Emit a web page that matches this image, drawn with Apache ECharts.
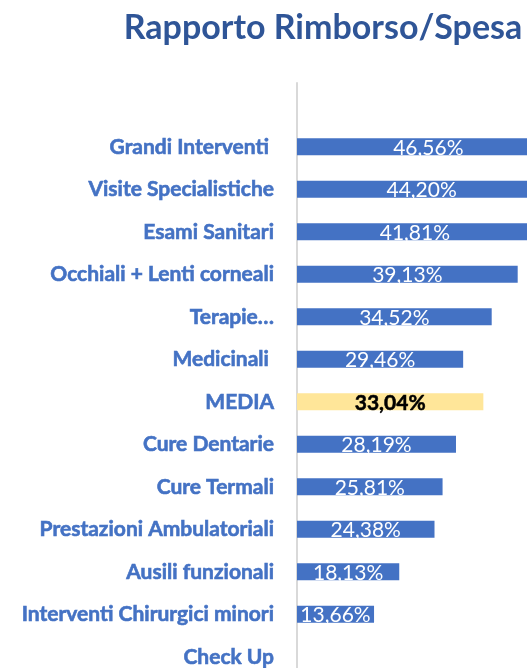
<!DOCTYPE html>
<html>
<head>
<meta charset="utf-8">
<script src="https://cdn.jsdelivr.net/npm/echarts@6/dist/echarts.min.js"></script>
<style>
  html, body { margin: 0; padding: 0; background: #fff; }
  #main { width: 527px; height: 668px; }
</style>
</head>
<body>
<div id="main"></div>
<script>
// categories top to bottom (first one is an empty slot above the bars)
const categories = ['', 'Grandi Interventi ', 'Visite Specialistiche', 'Esami Sanitari', 'Occhiali + Lenti corneali',
  'Terapie…', 'Medicinali ', 'MEDIA', 'Cure Dentarie', 'Cure Termali', 'Prestazioni Ambulatoriali',
  'Ausili funzionali', 'Interventi Chirurgici minori', 'Check Up'];
const ratios = [null, 46.56, 44.20, 41.81, 39.13, 34.52, 29.46, 33.04, 28.19, 25.81, 24.38, 18.13, 13.66, null];
const highlight = 'MEDIA';

const blue = '#4472C4';

const seriesData = ratios.map((v, i) => {
  if (categories[i] === highlight) {
    return {
      value: v,
      itemStyle: { color: '#FFE699' },
      label: { color: '#000', fontWeight: 'bold', textBorderColor: '#000', textBorderWidth: 0.5 }
    };
  }
  return v;
});

const chart = echarts.init(document.getElementById('main'), null, { renderer: 'canvas' });
chart.setOption({
  animation: false,
  title: {
    text: 'Rapporto Rimborso/Spesa',
    left: 318,
    top: 6,
    textAlign: 'center',
    textStyle: { color: '#2F5597', fontSize: 34, fontWeight: 'bold', fontFamily: 'Lato' }
  },
  grid: { left: 297, top: 83, width: 282, height: 595, outerBoundsMode: 'none', containLabel: false },
  xAxis: {
    type: 'value',
    min: 0,
    max: 50,
    show: false
  },
  yAxis: {
    type: 'category',
    inverse: true,
    data: categories,
    axisLine: { show: true, lineStyle: { color: '#D9D9D9', width: 2 } },
    axisTick: { show: false },
    axisLabel: {
      margin: 23,
      color: blue,
      fontSize: 21,
      fontWeight: 'bold',
      fontFamily: 'Lato',
      textBorderColor: blue,
      textBorderWidth: 0.6
    }
  },
  series: [{
    type: 'bar',
    data: seriesData,
    barWidth: 17,
    itemStyle: { color: blue },
    label: {
      show: true,
      position: 'inside',
      offset: [0, 1],
      color: '#fff',
      fontSize: 21,
      fontFamily: 'Lato',
      formatter: p => p.value.toFixed(2).replace('.', ',') + '%'
    }
  }]
});
</script>
</body>
</html>
